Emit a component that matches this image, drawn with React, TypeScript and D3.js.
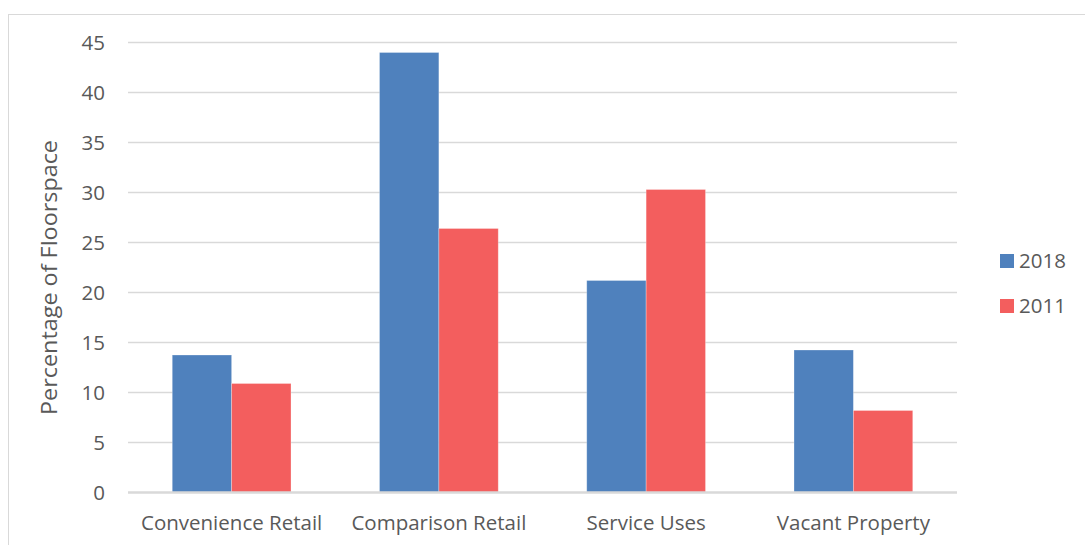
import React from "react";
import * as d3 from "d3";

const categories = ["Convenience Retail", "Comparison Retail", "Service Uses", "Vacant Property"];
const seriesNames = ["2018", "2011"];
const values2018 = [13.75, 44.0, 21.2, 14.25];
const values2011 = [10.9, 26.4, 30.3, 8.2];
const yTicks = [0, 5, 10, 15, 20, 25, 30, 35, 40, 45];
const colors = ["#4F81BD", "#F35E5E"];

const W = 1085;
const H = 545;
const left = 128;
const right = 957;
const top = 42.5;
const bottom = 492.5;
const font = "'Open Sans', 'Liberation Sans', sans-serif";
const textColor = "#595959";

export default function App() {
  const x0 = d3
    .scaleBand<string>()
    .domain(categories)
    .range([left, right])
    .paddingInner(0.427)
    .paddingOuter(0.2135);
  const x1 = d3.scaleBand<string>().domain(seriesNames).range([0, x0.bandwidth()]).padding(0);
  const y = d3.scaleLinear().domain([0, 45]).range([bottom, top]);
  const series = [values2018, values2011];

  return (
    <svg
      width={W}
      height={H}
      style={{ position: "absolute", left: 0, top: 0, background: "#fff" }}
      fontFamily={font}
    >
      <rect x={0} y={0} width={W} height={H} fill="#fff" />
      <line x1={8.5} y1={14} x2={8.5} y2={H} stroke="#D9D9D9" strokeWidth={1} />
      <line x1={8} y1={14.5} x2={W} y2={14.5} stroke="#D9D9D9" strokeWidth={1} />
      {yTicks.map((t) => (
        <g key={t}>
          {t !== 0 && (
            <line x1={left} x2={right} y1={y(t)} y2={y(t)} stroke="#D9D9D9" strokeWidth={1.3} />
          )}
          <text
            x={105}
            y={y(t)}
            dy="0.36em"
            textAnchor="end"
            fontSize={20.5}
            fill={textColor}
          >
            {t}
          </text>
        </g>
      ))}
      {categories.map((c, i) => (
        <g key={c}>
          {series.map((vals, s) => (
            <rect
              key={s}
              x={(x0(c) as number) + (x1(seriesNames[s]) as number)}
              y={y(vals[i])}
              width={x1.bandwidth()}
              height={y(0) - y(vals[i])}
              fill={colors[s]}
              stroke="rgba(255,255,255,0.35)"
              strokeWidth={0.8}
            />
          ))}
          <text
            x={(x0(c) as number) + x0.bandwidth() / 2}
            y={530}
            textAnchor="middle"
            fontSize={20.5}
            fill={textColor}
          >
            {c}
          </text>
        </g>
      ))}
      <line x1={left} x2={right} y1={y(0)} y2={y(0)} stroke="#D9D9D9" strokeWidth={2.5} />
      <text
        transform={`translate(57,277.5) rotate(-90)`}
        textAnchor="middle"
        fontSize={21}
        textLength={275}
        lengthAdjust="spacingAndGlyphs"
        fill={textColor}
      >
        Percentage of Floorspace
      </text>
      {seriesNames.map((n, s) => (
        <g key={n}>
          <rect x={1000} y={254 + s * 45} width={14} height={14} fill={colors[s]} />
          <text x={1019} y={261 + s * 45} dy="0.36em" fontSize={20.5} fill={textColor}>
            {n}
          </text>
        </g>
      ))}
    </svg>
  );
}
